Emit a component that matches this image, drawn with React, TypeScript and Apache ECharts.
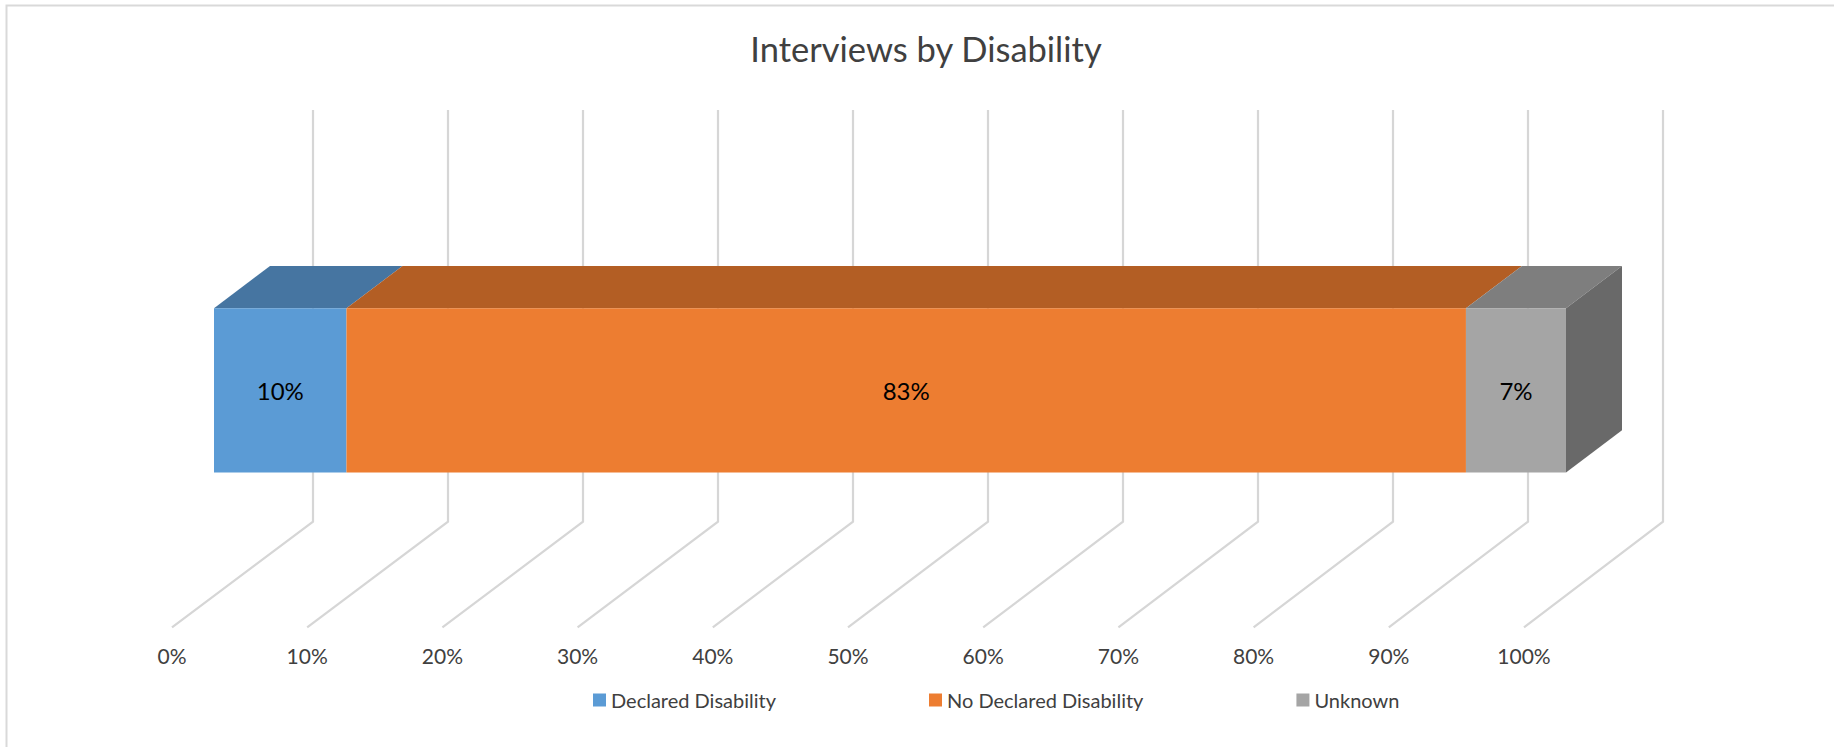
import React, { useEffect, useRef } from "react";
import * as echarts from "echarts";

const categories = ["Interviews"];
const seriesNames = ["Declared Disability", "No Declared Disability", "Unknown"];
const seriesValues = [9.8, 82.8, 7.4];
const dataLabels = ["10%", "83%", "7%"];
const frontColors = ["#5B9BD5", "#ED7D31", "#A5A5A5"];
const topColors = ["#4675A1", "#B35E24", "#7E7E7E"];
const sideColor = "#696969";
const axisTicks = [0, 10, 20, 30, 40, 50, 60, 70, 80, 90, 100];
const titleText = "Interviews by Disability";

const FONT = "Lato, 'Open Sans', sans-serif";
const FLOOR_LEFT = 172;
const PLOT_WIDTH = 1352;
const FLOOR_Y = 627.3;
const WALL_BOTTOM = 521.7;
const WALL_TOP = 110;
const WALL_LEFT = 313;
const WALL_WIDTH = 1350;
const BAR_DX = 56;
const BAR_DY = 42.3;

export default function App() {
  const ref = useRef<HTMLDivElement>(null);
  useEffect(() => {
    const chart = echarts.init(ref.current!, undefined, { renderer: "svg" });
    const starts = seriesValues.map((_, i) => seriesValues.slice(0, i).reduce((a, b) => a + b, 0));
    chart.setOption({
      animation: false,
      backgroundColor: "#ffffff",
      title: {
        text: titleText,
        left: 921,
        top: 26,
        textAlign: "center",
        textStyle: { fontFamily: FONT, fontSize: 34.5, fontWeight: "normal", color: "#404040" },
      },
      legend: {
        data: seriesNames,
        left: 588,
        top: 685,
        itemWidth: 13,
        itemHeight: 13,
        itemGap: 153,
        icon: "rect",
        textStyle: { fontFamily: FONT, fontSize: 20, color: "#404040" },
      },
      grid: [
        { left: FLOOR_LEFT, width: PLOT_WIDTH, top: WALL_TOP, height: FLOOR_Y - WALL_TOP },
        { left: 214, width: PLOT_WIDTH, top: 308.3, height: 164.2 },
      ],
      xAxis: [
        {
          gridIndex: 0,
          type: "value",
          min: 0,
          max: 100,
          interval: 10,
          axisLine: { show: false },
          axisTick: { show: false },
          splitLine: { show: false },
          axisLabel: {
            margin: 18,
            formatter: "{value}%",
            fontFamily: FONT,
            fontSize: 21,
            color: "#404040",
          },
        },
        {
          gridIndex: 1,
          type: "value",
          min: 0,
          max: 100,
          show: false,
        },
      ],
      yAxis: [
        { gridIndex: 0, type: "value", min: 0, max: 1, show: false },
        { gridIndex: 1, type: "category", data: categories, show: false },
      ],
      graphic: [
        {
          type: "rect",
          shape: { x: 6.5, y: 5.5, width: 1840, height: 800 },
          style: { fill: "none", stroke: "#d9d9d9", lineWidth: 2 },
          silent: true,
          z: -1,
        },
      ],
      series: [
        {
          type: "custom",
          name: "gridlines",
          coordinateSystem: "cartesian2d",
          xAxisIndex: 0,
          yAxisIndex: 0,
          silent: true,
          z: 1,
          data: axisTicks.map((t) => [t, 0]),
          renderItem: (_p: any, api: any) => {
            const front = api.coord([api.value(0), 0]);
            const wallX = WALL_LEFT + ((front[0] - FLOOR_LEFT) / PLOT_WIDTH) * WALL_WIDTH;
            return {
              type: "polyline",
              shape: {
                points: [
                  [front[0], front[1]],
                  [wallX, WALL_BOTTOM],
                  [wallX, WALL_TOP],
                ],
              },
              style: { fill: "none", stroke: "#d6d6d6", lineWidth: 2.2 },
            };
          },
        },
        {
          type: "custom",
          name: "bar depth",
          coordinateSystem: "cartesian2d",
          xAxisIndex: 1,
          yAxisIndex: 1,
          silent: true,
          z: 2,
          data: seriesValues.map((v, i) => [starts[i], starts[i] + v, i]),
          renderItem: (params: any, api: any) => {
            const a = api.coord([api.value(0), 0]);
            const b = api.coord([api.value(1), 0]);
            const size = api.size([0, 1]);
            const top = a[1] - size[1] / 2;
            const bottom = a[1] + size[1] / 2;
            const i = api.value(2);
            const children: any[] = [
              {
                type: "polygon",
                shape: {
                  points: [
                    [a[0], top],
                    [a[0] + BAR_DX, top - BAR_DY],
                    [b[0] + BAR_DX, top - BAR_DY],
                    [b[0], top],
                  ],
                },
                style: { fill: topColors[i] },
              },
            ];
            if (params.dataIndex === seriesValues.length - 1) {
              children.push({
                type: "polygon",
                shape: {
                  points: [
                    [b[0], top],
                    [b[0] + BAR_DX, top - BAR_DY],
                    [b[0] + BAR_DX, bottom - BAR_DY],
                    [b[0], bottom],
                  ],
                },
                style: { fill: sideColor },
              });
            }
            return { type: "group", children };
          },
        },
        ...seriesNames.map((name, i) => ({
          type: "bar",
          name,
          stack: "total",
          xAxisIndex: 1,
          yAxisIndex: 1,
          barWidth: "100%",
          z: 3,
          data: [seriesValues[i]],
          itemStyle: { color: frontColors[i] },
          label: {
            show: true,
            position: "inside",
            formatter: () => dataLabels[i],
            fontFamily: FONT,
            fontSize: 24,
            color: "#000000",
          },
        })),
      ],
    });
    return () => chart.dispose();
  }, []);
  return (
    <div
      ref={ref}
      style={{ position: "fixed", left: 0, top: 0, width: 1834, height: 747 }}
    />
  );
}
